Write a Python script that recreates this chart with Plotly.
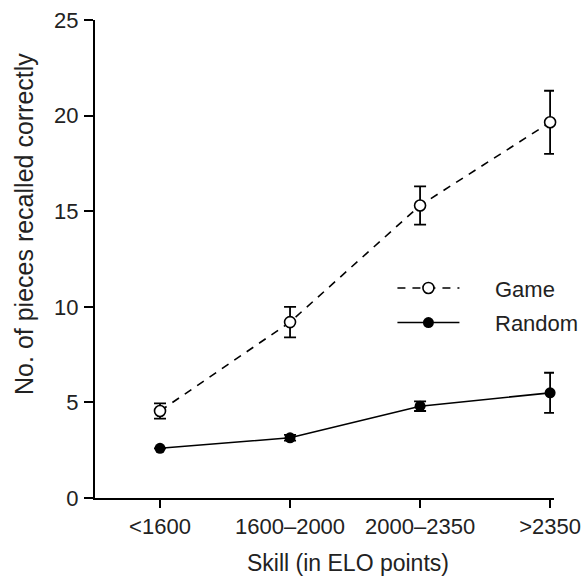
import plotly.graph_objects as go

categories = ["<1600", "1600–2000", "2000–2350", ">2350"]
game_vals = [4.55, 9.2, 15.3, 19.65]
game_err = [0.4, 0.8, 1.0, 1.65]
random_vals = [2.6, 3.15, 4.8, 5.5]
random_err = [0.0, 0.15, 0.25, 1.05]
y_ticks = [0, 5, 10, 15, 20, 25]

xidx = list(range(len(categories)))
NB = "\u00a0"

fig = go.Figure()
fig.add_trace(go.Scatter(
    x=xidx, y=game_vals, name=NB * 5 + "Game", mode="lines+markers", legendgroup="g",
    cliponaxis=False,
    line=dict(color="black", width=1.6, dash="8px,7px"),
    marker=dict(symbol="circle", size=11, color="white", line=dict(color="black", width=1.6)),
    error_y=dict(type="data", array=game_err, visible=True, color="black", thickness=1.8, width=6),
))
fig.add_trace(go.Scatter(
    x=xidx, y=random_vals, name=NB * 5 + "Random", mode="lines+markers", legendgroup="r",
    cliponaxis=False,
    line=dict(color="black", width=1.6),
    marker=dict(symbol="circle", size=11, color="black"),
    error_y=dict(type="data", array=random_err, visible=True, color="black", thickness=1.8, width=6),
))

font = "Liberation Sans, Arial, sans-serif"
txt = "#222"
fig.update_layout(
    width=581, height=582,
    margin=dict(l=95, r=27, t=20, b=84, autoexpand=False),
    plot_bgcolor="white", paper_bgcolor="white",
    font=dict(family=font, size=22, color=txt),
    showlegend=True,
    legend=dict(x=0.648, y=0.483, xanchor="left", yanchor="top", itemwidth=62,
                font=dict(size=22, color=txt), bgcolor="rgba(0,0,0,0)", tracegroupgap=3),
    xaxis=dict(
        range=[-0.5, 3.03], tickmode="array", tickvals=xidx, ticktext=categories,
        showline=True, linecolor="black", linewidth=2, ticks="outside", ticklen=8,
        tickwidth=2, tickcolor="black", showgrid=False, zeroline=False, automargin=False,
        tickfont=dict(size=22, color=txt), ticklabelstandoff=0, ticklabeloverflow="allow",
    ),
    yaxis=dict(
        range=[0, 25], tickvals=y_ticks, showline=True, linecolor="black", linewidth=2,
        ticks="outside", ticklen=9, tickwidth=2, tickcolor="black", automargin=False,
        showgrid=False, zeroline=False, ticklabeloverflow="allow",
        tickfont=dict(size=22, color=txt), ticklabelstandoff=1,
    ),
    annotations=[
        dict(text="Skill (in ELO points)", xref="paper", yref="paper",
             x=0.551, y=-0.136, xanchor="center", yanchor="middle", showarrow=False,
             font=dict(size=23, color=txt)),
        dict(text="No. of pieces recalled correctly", xref="paper", yref="paper",
             x=-0.155, y=0.573, xanchor="center", yanchor="middle", showarrow=False,
             textangle=-90, font=dict(size=25, color=txt)),
    ],
)

fig.write_html("out.html", config={"displayModeBar": False},
               post_script="document.body.style.margin='0';")
